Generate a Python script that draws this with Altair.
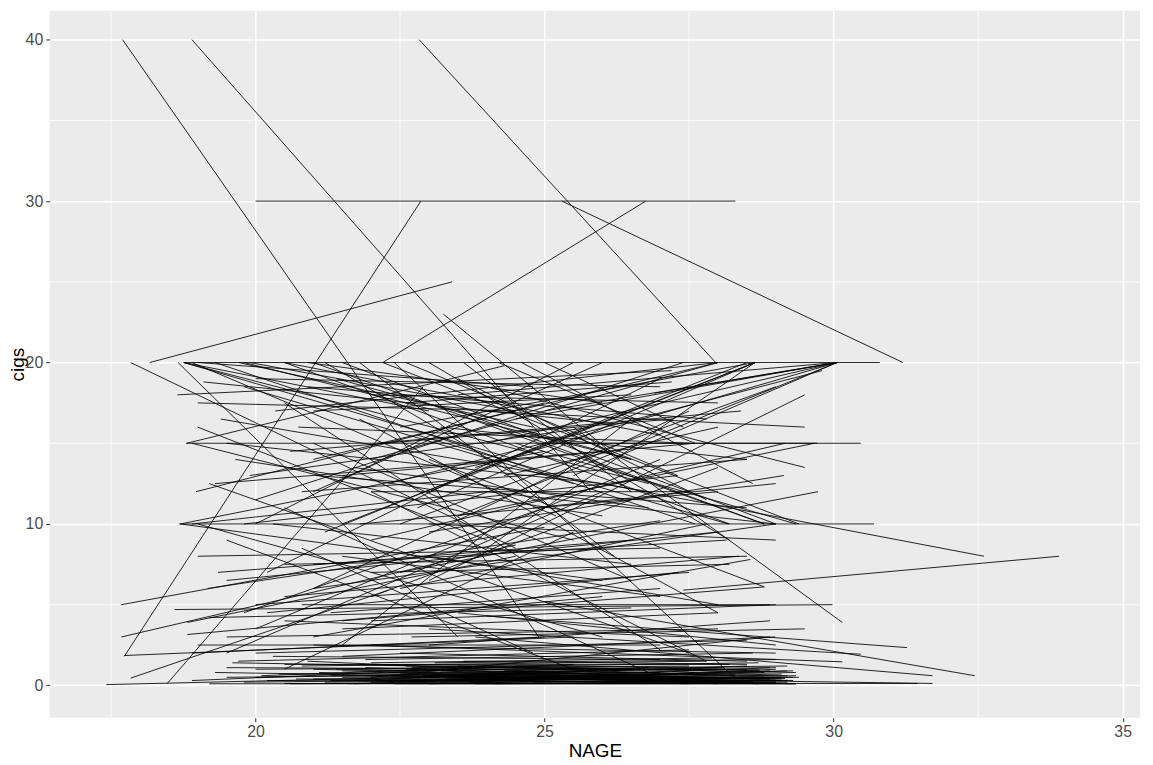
import altair as alt
import pandas as pd

# Each tuple: (NAGE at wave 1, cigs at wave 1, NAGE at wave 2, cigs at wave 2)
heavy_lines = [
    (17.70, 40, 24.9, 3.0), (18.90, 40, 25.8, 12.0), (22.83, 40, 27.96, 20),
    (25.3, 30, 31.2, 20), (20.0, 30, 28.3, 30), (17.73, 1.8, 22.86, 30),
    (18.17, 20, 23.4, 25), (22.2, 20, 26.75, 30), (23.25, 23, 26.3, 14),
    (18.47, 0.1, 22.9, 18.5), (17.84, 20, 24.5, 8.5), (18.66, 20, 23.5, 3.0),
    (18.76, 20, 30.8, 20), (18.8, 15, 30.47, 15), (18.68, 10, 30.7, 10),
    (26.0, 12.5, 32.6, 8.0), (27.4, 5.9, 33.9, 8.0), (25.5, 16.0, 30.15, 3.9),
    (25.0, 5.2, 32.44, 0.6), (17.42, 0.05, 27.5, 0.9), (20.5, 0.12, 31.45, 0.12),
    (17.84, 0.45, 22.3, 5.9), (17.68, 3.0, 24.5, 8.7), (17.68, 5.0, 25.0, 9.8),
    (17.73, 1.85, 25.5, 3.0), (18.65, 18, 27.2, 19.5), (18.81, 15, 24.3, 19.8),
    (18.97, 12, 25.0, 17.5), (19.65, 14, 26.0, 10.5), (20.34, 17, 28.0, 20),
    (20.74, 16, 27.5, 15), (19.17, 6, 27.0, 10.2), (19.35, 7, 26.5, 9.0),
    (18.6, 4.7, 29.98, 5.0), (18.82, 3.15, 26.0, 5.5), (18.82, 3.9, 24.5, 8.0),
    (19.2, 0.1, 29.35, 0.1), (19.5, 1.1, 28.7, 0.95), (19.8, 18.5, 25.5, 12.5),
    (21.04, 13, 28.5, 11),
]

right_end_lines = [
    (22.5, 7, 29.73, 12.0), (23.0, 9.5, 29.14, 13.0), (23.5, 10.5, 29.67, 15.0),
    (22.0, 9.0, 29.16, 15), (21.5, 13.0, 27.6, 15), (23.0, 2.5, 28.9, 4.0),
    (22.0, 0.5, 28.9, 3.0), (21.0, 3.0, 28.56, 7.8), (20.5, 5.5, 28.36, 8.0),
    (21.5, 4.0, 28.8, 6.1), (22.8, 0.8, 29.1, 0.4), (24.0, 12.0, 29.0, 10.0),
    (24.5, 15.0, 29.35, 10.0), (23.5, 17.0, 28.8, 10.0), (22.8, 15.5, 28.18, 10.0),
    (21.0, 7.5, 28.15, 9.0), (20.2, 4.5, 27.32, 7.0), (24.0, 4.3, 31.27, 2.34),
    (23.8, 3.0, 31.71, 0.6), (23.0, 3.5, 30.47, 1.93), (22.0, 2.5, 30.15, 1.46),
    (21.5, 1.8, 28.99, 3.0), (24.5, 0.5, 31.71, 0.12), (22.6, 1.2, 28.73, 0.94),
    (21.3, 0.3, 28.59, 0.43), (22.9, 0.6, 29.16, 0.43),
]

from_twenty_lines = [
    (18.76, 20, 24.5, 14), (18.76, 20, 26.8, 12.5), (18.9, 20, 25.2, 10.5),
    (19.3, 20, 27.6, 10), (19.71, 20, 24.8, 16), (19.8, 20, 26.5, 14),
    (20.5, 20, 27.0, 15.5), (20.5, 20, 28.2, 10.0), (20.9, 20, 26.0, 17.5),
    (21.0, 20, 28.8, 10.0), (21.2, 20, 25.0, 12.0), (21.5, 20, 29.0, 10.0),
    (21.8, 20, 26.2, 8.0), (22.2, 20, 29.4, 10.0), (22.6, 20, 27.3, 13.0),
    (23.0, 20, 28.2, 9.0), (23.6, 20, 26.5, 12.0), (24.2, 20, 27.6, 15.0),
    (24.6, 20, 28.6, 12.5), (25.0, 20, 27.4, 16.0), (22.4, 20, 28.3, 0.43),
    (18.76, 20, 23.0, 17.0), (19.0, 20, 24.8, 18.5), (19.9, 20, 24.5, 17.0),
]

to_twenty_lines = [
    (22.0, 14, 28.0, 20), (21.5, 10, 28.64, 20), (23.0, 12, 28.64, 20),
    (22.5, 16, 28.64, 20), (24.0, 15, 30.06, 20), (23.5, 10.5, 30.06, 20),
    (25.0, 17, 30.06, 20), (26.9, 18.1, 30.06, 20), (24.0, 8.5, 28.64, 20),
    (25.5, 13, 30.06, 20), (21.0, 12, 26.0, 20), (20.0, 10, 25.5, 20),
    (23.8, 13.5, 30.06, 20), (24.5, 16.5, 30.06, 20), (22.8, 11.0, 28.64, 20),
    (21.0, 14.0, 28.0, 20), (20.0, 11.5, 27.4, 20), (23.5, 18.0, 30.06, 20),
    (21.2, 9.5, 28.5, 20.0), (22.3, 12.5, 29.8, 19.5), (25.0, 15.0, 29.72, 15.0),
]

middle_lines = [
    (19.0, 10.0, 26.0, 3.0), (19.2, 12.5, 27.5, 2.0), (20.5, 17.5, 27.0, 2.2),
    (21.8, 16.5, 28.0, 4.5), (22.0, 12.0, 27.8, 1.5), (20.5, 11.0, 26.8, 0.8),
    (23.0, 14.0, 28.8, 6.1), (19.5, 9.0, 25.5, 1.0), (20.8, 8.5, 24.8, 2.0),
    (23.5, 19.0, 27.8, 11.5), (24.0, 18.5, 29.5, 13.5), (19.0, 16.0, 24.0, 9.0),
    (21.0, 15.0, 26.5, 6.5), (19.5, 2.0, 26.0, 12.0), (20.0, 3.5, 27.0, 14.0),
    (20.5, 1.0, 25.5, 9.5), (21.0, 6.0, 27.5, 17.0), (21.5, 2.5, 26.5, 16.5),
    (22.0, 5.5, 28.0, 13.5), (22.5, 10.0, 29.0, 18.5), (23.0, 6.5, 29.5, 18.0),
    (20.2, 7.0, 27.0, 19.0), (19.8, 4.5, 25.0, 11.0),
    (19.0, 8.0, 27.0, 8.5), (19.5, 6.5, 28.0, 9.5), (20.0, 5.0, 27.5, 7.0),
    (20.5, 7.5, 28.5, 8.0), (21.0, 6.0, 29.0, 10.0), (21.5, 8.0, 27.0, 5.5),
    (22.0, 7.0, 28.2, 7.5), (22.5, 6.0, 27.8, 10.0), (23.0, 8.0, 28.0, 5.0),
    (20.3, 10.0, 26.5, 7.5), (19.8, 10.0, 27.3, 13.0), (21.8, 10.0, 28.0, 12.0),
    (23.0, 10.0, 29.0, 9.0), (20.8, 12.0, 28.5, 14.0), (22.0, 12.0, 27.5, 12.0),
    (19.3, 12.5, 26.0, 14.5), (21.0, 17.0, 26.5, 18.0), (22.0, 18.0, 28.0, 17.5),
    (19.0, 17.5, 24.5, 17.0), (20.0, 19.0, 27.0, 18.5),
    (19.4, 16.5, 26.8, 12.0), (20.6, 14.5, 27.2, 16.5), (21.4, 19.0, 26.5, 14.0),
    (22.1, 15.0, 28.4, 17.0), (23.2, 16.0, 28.5, 14.0), (19.9, 13.0, 25.8, 16.0),
    (20.9, 18.5, 27.8, 16.5), (22.6, 17.5, 27.2, 18.8), (24.3, 13.0, 28.0, 16.0),
    (24.8, 11.0, 29.0, 12.5), (19.1, 18.8, 26.2, 16.2), (21.7, 13.5, 26.8, 11.0),
    (23.9, 17.0, 29.5, 16.0), (18.7, 10, 25.0, 14.5), (18.7, 10, 26.0, 6.5),
    (18.9, 10, 24.0, 12.0), (18.9, 15, 25.5, 9.0), (19.5, 15, 26.0, 12.5),
]

low_lines = [
    (19.0, 2.5, 27.0, 2.5), (19.5, 3.0, 28.0, 3.5), (20.0, 2.0, 28.5, 2.8),
    (20.5, 4.0, 27.5, 3.0), (21.0, 2.5, 29.0, 2.0), (21.5, 3.5, 28.0, 4.5),
    (22.0, 4.0, 29.0, 5.0), (22.5, 2.0, 28.5, 1.5), (19.2, 4.2, 26.5, 4.8),
    (20.8, 5.0, 28.9, 5.0), (18.9, 2.0, 25.0, 3.0), (19.7, 1.5, 27.5, 2.2),
    (21.3, 4.5, 27.0, 6.0), (22.7, 3.0, 29.5, 3.5), (23.5, 4.5, 29.0, 2.5),
]

near_zero_lines = [
    (19.5, 0.5, 27.0, 0.8), (19.8, 0.2, 28.0, 0.5), (20.0, 1.0, 27.5, 1.2),
    (20.2, 0.3, 29.0, 0.2), (20.4, 0.7, 28.5, 1.0), (20.6, 0.1, 29.2, 0.3),
    (20.8, 1.2, 27.8, 1.5), (21.0, 0.4, 28.8, 0.6), (21.1, 0.8, 29.3, 0.1),
    (21.2, 0.2, 27.2, 0.4), (21.4, 1.0, 28.3, 0.7), (21.5, 0.5, 29.4, 0.5),
    (21.6, 0.1, 28.9, 0.9), (21.8, 1.3, 28.1, 1.1), (21.9, 0.6, 29.0, 0.2),
    (22.0, 0.2, 27.6, 0.8), (22.1, 0.9, 29.2, 1.2), (22.3, 0.4, 28.4, 0.3),
    (22.4, 0.1, 29.35, 0.1), (22.5, 0.7, 27.9, 0.5), (22.7, 1.1, 28.7, 1.4),
    (22.8, 0.3, 29.1, 0.7), (23.0, 0.6, 28.2, 0.2), (23.2, 0.2, 29.3, 0.9),
    (23.4, 1.0, 28.0, 1.0), (23.6, 0.5, 29.0, 0.4), (23.8, 0.1, 28.6, 0.2),
    (24.0, 0.8, 29.2, 0.6), (24.2, 0.3, 27.5, 0.1), (24.5, 1.2, 28.8, 0.8),
    (19.3, 0.8, 24.5, 0.5), (19.6, 1.4, 26.0, 1.0), (20.1, 0.6, 25.5, 1.3),
    (20.9, 1.5, 26.5, 0.6), (21.7, 0.3, 26.8, 1.1), (18.9, 0.3, 23.5, 1.0),
    (20.3, 1.8, 27.0, 1.6), (21.9, 1.6, 28.6, 2.0), (23.1, 1.4, 29.0, 1.6),
    (24.8, 0.2, 29.1, 0.3),
]

zero_band_lines = [
    (21.3, 0.6, 29.1, 0.3), (21.5, 0.9, 28.4, 0.2), (21.7, 0.1, 29.35, 0.6),
    (21.9, 1.1, 28.9, 0.4), (22.1, 0.3, 29.2, 0.9), (22.3, 0.8, 28.0, 0.1),
    (22.5, 0.2, 29.0, 1.1), (22.6, 1.0, 29.3, 0.3), (22.8, 0.5, 28.5, 1.2),
    (23.0, 0.1, 29.1, 0.5), (23.2, 0.9, 28.7, 0.1), (23.3, 0.4, 29.35, 0.8),
    (23.5, 1.2, 28.3, 0.6), (23.7, 0.2, 29.0, 1.0), (23.9, 0.7, 28.8, 0.3),
    (24.1, 0.1, 29.2, 0.2), (24.3, 0.9, 28.9, 1.1), (24.6, 0.4, 29.3, 0.5),
    (20.7, 0.4, 26.9, 0.2), (21.0, 1.0, 27.4, 0.5), (20.0, 0.5, 26.3, 0.9),
    (20.5, 1.3, 28.2, 1.3), (22.0, 1.4, 27.9, 1.7), (23.6, 1.5, 28.5, 1.3),
]

x_ticks = [20, 25, 30, 35]
y_ticks = [0, 10, 20, 30, 40]
x_minor = [17.5, 22.5, 27.5, 32.5]
y_minor = [5, 15, 25, 35]

groups = [heavy_lines, right_end_lines, from_twenty_lines, to_twenty_lines,
          middle_lines, low_lines, near_zero_lines, zero_band_lines]
rows = []
sid = 0
for g in groups:
    for a1, c1, a2, c2 in g:
        rows.append({"id": sid, "NAGE": a1, "cigs": c1})
        rows.append({"id": sid, "NAGE": a2, "cigs": c2})
        sid += 1
df = pd.DataFrame(rows)

FONT = "Liberation Sans"
xscale = alt.Scale(domain=[16.44, 35.3], nice=False, zero=False)
yscale = alt.Scale(domain=[-2, 41.8], nice=False, zero=False)
xaxis = alt.Axis(values=x_ticks, title="NAGE", grid=True,
                 titleY=33, titleBaseline="middle")
yaxis = alt.Axis(values=y_ticks, title="cigs", grid=True,
                 titleX=-32, titleY=356, titleAngle=270,
                 titleBaseline="middle", titleAlign="center")

minor_x = alt.Chart(pd.DataFrame({"NAGE": x_minor})).mark_rule(
    color="white", strokeWidth=0.8
).encode(x=alt.X("NAGE:Q", scale=xscale, axis=xaxis))

minor_y = alt.Chart(pd.DataFrame({"cigs": y_minor})).mark_rule(
    color="white", strokeWidth=0.8
).encode(y=alt.Y("cigs:Q", scale=yscale, axis=yaxis))

lines = alt.Chart(df).mark_line(color="black", strokeWidth=0.85).encode(
    x=alt.X("NAGE:Q", scale=xscale, axis=xaxis),
    y=alt.Y("cigs:Q", scale=yscale, axis=yaxis),
    detail="id:N",
    order="NAGE:Q",
)

chart = alt.layer(minor_x, minor_y, lines).properties(
    width=1098, height=712,
    padding={"left": 42, "top": 0, "right": 5, "bottom": 45},
    autosize=alt.AutoSizeParams(type="none"),
).configure_view(
    fill="#EBEBEB", strokeWidth=0
).configure_axis(
    domain=False,
    gridColor="white", gridWidth=1.6,
    tickColor="#333333", tickSize=4, tickWidth=1,
    labelColor="#4D4D4D", labelFont=FONT, labelFontSize=16,
    titleColor="black", titleFont=FONT, titleFontSize=19, titleFontWeight="normal",
).configure_axisX(
    labelPadding=2,
).configure_axisY(
    labelPadding=3,
)

chart.save("out.html", embed_options={"renderer": "svg", "actions": False})
